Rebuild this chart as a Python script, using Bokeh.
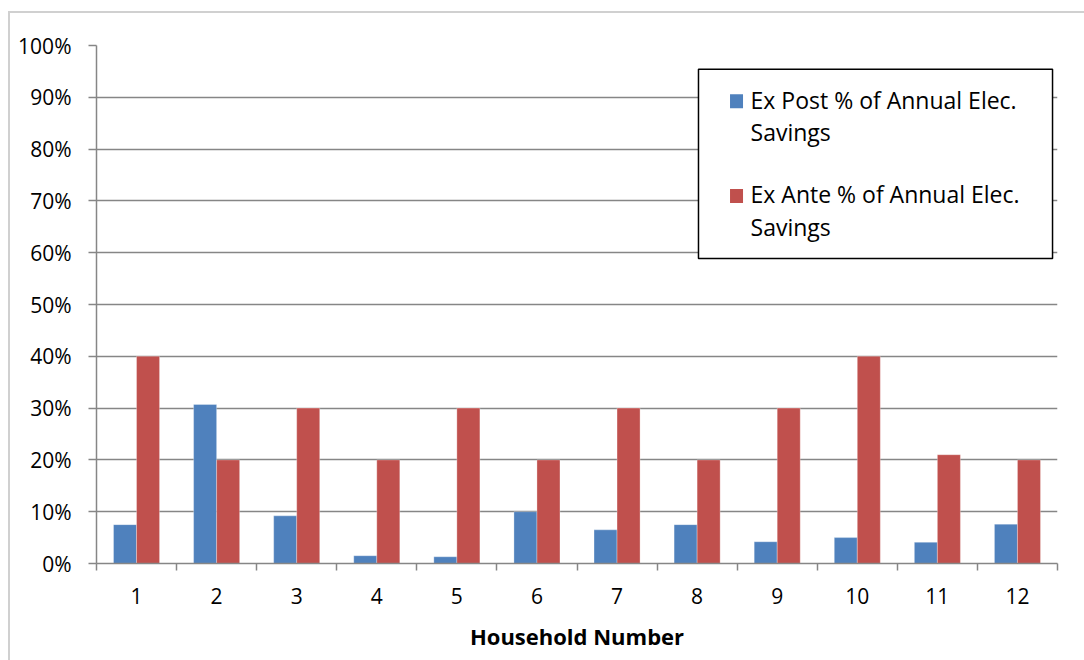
from bokeh.plotting import figure
from bokeh.models import (FixedTicker, NumeralTickFormatter, BoxAnnotation, Label, Range1d,
                          InlineStyleSheet)
from bokeh.transform import dodge
from bokeh.embed import file_html
from bokeh.resources import INLINE

households = [1, 2, 3, 4, 5, 6, 7, 8, 9, 10, 11, 12]
tick_labels = [str(h) for h in households]
ex_post = [0.075, 0.307, 0.092, 0.015, 0.013, 0.100, 0.065, 0.075, 0.042, 0.050, 0.041, 0.076]
ex_ante = [0.40, 0.20, 0.30, 0.20, 0.30, 0.20, 0.30, 0.20, 0.30, 0.40, 0.21, 0.20]
series_names = ["Ex Post % of Annual Elec.\nSavings", "Ex Ante % of Annual Elec.\nSavings"]
colors = ["#4F81BD", "#C0504D"]

FONT = "Open Sans"
GRAY = "#868686"

# light gray chart-area border on the left and top (drawn as host background)
border_css = InlineStyleSheet(css="""
:host {
  background:
    linear-gradient(#D0D0D0, #D0D0D0) 8px 11px / 2px 100% no-repeat,
    linear-gradient(#D0D0D0, #D0D0D0) 8px 11px / 100% 2px no-repeat,
    #FFFFFF;
}
""")

p = figure(width=1084, height=660, output_backend="svg", toolbar_location=None,
           x_range=Range1d(0.5, 12.5), y_range=Range1d(0, 1.0),
           stylesheets=[border_css])
p.min_border_left = 96
p.min_border_right = 27
p.min_border_top = 45
p.min_border_bottom = 97
p.outline_line_color = None
p.background_fill_color = "white"
p.border_fill_color = "white"
p.border_fill_alpha = 0

bw = 0.2875
p.vbar(x=dodge("x", -0.1437, range=p.x_range), top="post", width=bw, bottom=0,
       source=dict(x=households, post=ex_post), fill_color=colors[0],
       line_color="#FFFFFF", line_width=0.5, line_alpha=0.6)
p.vbar(x=dodge("x", 0.1437, range=p.x_range), top="ante", width=bw, bottom=0,
       source=dict(x=households, ante=ex_ante), fill_color=colors[1],
       line_color="#FFFFFF", line_width=0.5, line_alpha=0.6)

# x axis
xa = p.xaxis[0]
xa.ticker = FixedTicker(ticks=households, minor_ticks=[h + 0.5 for h in [0] + households])
xa.major_label_overrides = {h: l for h, l in zip(households, tick_labels)}
xa.major_tick_out = 0
xa.major_tick_in = 0
xa.minor_tick_out = 7
xa.minor_tick_in = 0
xa.minor_tick_line_color = GRAY
xa.axis_line_color = GRAY
xa.axis_line_width = 1.5
xa.minor_tick_line_width = 1.5
xa.major_label_standoff = 17
xa.major_label_text_font = FONT
xa.major_label_text_font_size = "21px"
xa.major_label_text_color = "black"
xa.axis_label = "Household Number"
xa.axis_label_text_font = FONT
xa.axis_label_text_font_size = "22px"
xa.axis_label_text_font_style = "bold"
xa.axis_label_text_color = "black"
xa.axis_label_standoff = 14

# y axis
ya = p.yaxis[0]
ya.ticker = FixedTicker(ticks=[i / 10 for i in range(11)])
ya.formatter = NumeralTickFormatter(format="0%")
ya.major_tick_out = 8
ya.major_tick_in = 0
ya.minor_tick_out = 0
ya.minor_tick_in = 0
ya.major_tick_line_color = GRAY
ya.major_tick_line_width = 1.5
ya.axis_line_color = GRAY
ya.axis_line_width = 1.5
ya.major_label_standoff = 17
ya.major_label_text_font = FONT
ya.major_label_text_font_size = "21px"
ya.major_label_text_color = "black"

p.xgrid.grid_line_color = None
p.ygrid.grid_line_color = GRAY
p.ygrid.grid_line_width = 1.5

# legend (manual)
p.add_layout(BoxAnnotation(left=8.017, right=12.438, top=0.954, bottom=0.589,
                           fill_color="white", fill_alpha=1.0,
                           line_color="black", line_alpha=1.0, line_width=1.5))
sq_x = 8.492
sq_half_x = 6.5 / 80.08
sq_half_y = 7 / 517.2
for cy, c in zip([0.8923, 0.7096], colors):
    p.add_layout(BoxAnnotation(left=sq_x - sq_half_x, right=sq_x + sq_half_x,
                               bottom=cy - sq_half_y, top=cy + sq_half_y,
                               fill_color=c, fill_alpha=1.0, line_color=None))
line_ys = [(0.8945, 0.8325), (0.7125, 0.6495)]
for name, (y1, y2) in zip(series_names, line_ys):
    l1, l2 = name.split("\n")
    for txt, yy in ((l1, y1), (l2, y2)):
        p.add_layout(Label(x=8.667, y=yy, text=txt, text_baseline="alphabetic",
                           text_font=FONT, text_font_size="23px", text_color="black"))

open("out.html", "w").write(file_html(p, INLINE))
